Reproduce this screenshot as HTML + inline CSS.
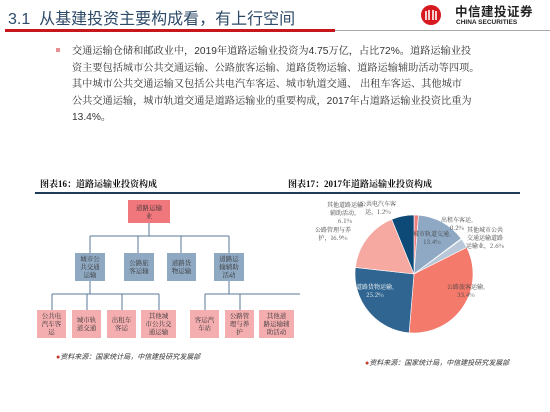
<!DOCTYPE html>
<html><head><meta charset="utf-8"><style>
body{margin:0;width:550px;height:412px;background:#fff;position:relative;overflow:hidden;font-family:"Liberation Sans","Noto Sans CJK SC",sans-serif}
.a{position:absolute}
.box{position:absolute;display:flex;align-items:center;justify-content:center;text-align:center;font-family:"Noto Serif CJK SC",serif;font-size:6.5px;line-height:8px;color:#333}
.red{background:#f0777c}.blue{background:#8fa9c2}.pink{background:#f4aeb0}
.para div{white-space:nowrap}
</style></head><body>
<div class="a" style="left:8px;top:5px;font-size:16px;color:#2d4a68;font-family:'Liberation Sans','Noto Sans CJK SC',sans-serif">3.1&nbsp; 从基建投资主要构成看，有上行空间</div>
<div class="a" style="left:5px;top:30px;width:545px;height:1px;background:#aaa"></div>
<div class="a" style="left:5px;top:29px;width:330px;height:3px;background:#c8161d"></div>
<svg class="a" style="left:420px;top:4px" width="22" height="22"><circle cx="11" cy="11" r="10" fill="#d71920"/><path d="M6 16V7M9 16V6M13 16V6M16 16V7" stroke="#fff" stroke-width="1.6"/></svg>
<div class="a" style="left:455px;top:1px;font-size:12.5px;font-weight:bold;color:#222;letter-spacing:0.5px">中信建投证券</div>
<div class="a" style="left:456px;top:19px;font-size:6.5px;font-weight:bold;color:#222">CHINA SECURITIES</div>
<div class="a" style="left:56px;top:48px;width:4px;height:4px;background:#e89090"></div>
<div class="a para" style="left:72px;top:44px;font-size:10.2px;line-height:16.6px;color:#333;font-family:'Liberation Sans','Noto Serif CJK SC',serif">
<div>交通运输仓储和邮政业中，2019年道路运输业投资为4.75万亿，占比72%。道路运输业投</div>
<div>资主要包括城市公共交通运输、公路旅客运输、道路货物运输、道路运输辅助活动等四项。</div>
<div>其中城市公共交通运输又包括公共电汽车客运、城市轨道交通、 出租车客运、其他城市</div>
<div>公共交通运输，城市轨道交通是道路运输业的重要构成，2017年占道路运输业投资比重为</div>
<div>13.4%。</div></div>

<div class="a" style="left:40px;top:177px;font-size:9px;font-weight:bold;color:#111;font-family:'Liberation Serif','Noto Serif CJK SC',serif">图表16：道路运输业投资构成</div>
<div class="a" style="left:288px;top:177px;font-size:9px;font-weight:bold;color:#111;font-family:'Liberation Serif','Noto Serif CJK SC',serif">图表17：2017年道路运输业投资构成</div>
<div class="a" style="left:35px;top:192px;width:485px;height:2px;background:#1f3b5a"></div>

<svg class="a" style="left:0;top:0" width="300" height="412"><g stroke="#5a7a98" stroke-width="1" fill="none">
<path d="M149 223V236M90 236H229M90 236V253M138 236V253M181 236V253M229 236V253"/>
<path d="M90 281V294M52 294H159M52 294V310M87 294V310M122 294V310M159 294V310"/>
<path d="M229 281V294M205 294H300M205 294V310M240 294V310"/></g></svg>
<div class="box red" style="left:128px;top:200px;width:42px;height:23px">道路运输<br>业</div>
<div class="box blue" style="left:75px;top:253px;width:30px;height:28px">城市公<br>共交通<br>运输</div>
<div class="box blue" style="left:124px;top:253px;width:30px;height:28px">公路旅<br>客运输</div>
<div class="box blue" style="left:167px;top:253px;width:29px;height:28px">道路货<br>物运输</div>
<div class="box blue" style="left:214px;top:253px;width:30px;height:28px">道路运<br>输辅助<br>活动</div>
<div class="box pink" style="left:37px;top:310px;width:29px;height:28px">公共电<br>汽车客<br>运</div>
<div class="box pink" style="left:72px;top:310px;width:29px;height:28px">城市轨<br>道交通</div>
<div class="box pink" style="left:107px;top:310px;width:29px;height:28px">出租车<br>客运</div>
<div class="box pink" style="left:141px;top:310px;width:35px;height:28px">其他城<br>市公共交<br>通运输</div>
<div class="box pink" style="left:190px;top:310px;width:29px;height:28px">客运汽<br>车站</div>
<div class="box pink" style="left:225px;top:310px;width:29px;height:28px">公路管<br>理与养<br>护</div>
<div class="box pink" style="left:259px;top:310px;width:35px;height:28px">其他道<br>路运输辅<br>助活动</div>

<div class="a" style="left:56px;top:352px;font-size:7px;font-style:italic;color:#333"><span style="color:#c0392b">●</span>资料来源：国家统计局，中信建投研究发展部</div>
<div class="a" style="left:365px;top:358px;font-size:7px;font-style:italic;color:#333"><span style="color:#c0392b">●</span>资料来源：国家统计局，中信建投研究发展部</div>

<svg class="a" id="pie" style="left:0;top:0" width="550" height="412"></svg>
<script>
const categories=["公共电汽车客运","城市轨道交通","出租车客运","其他城市公共交通运输运输业","公路旅客运输","道路货物运输","公路管理与养护","其他道路运输辅助活动"];
const values=[1.2,13.4,0.2,2.6,33.4,25.2,16.9,6.1];
const colors=["#f08080","#8fa9c4","#b5c6d6","#b8c8d8","#f47a6c","#2f6590","#f6a9a0","#0e4a78"];
const cx=414,cy=274,r=59;
const svg=document.getElementById('pie');
const NS="http://www.w3.org/2000/svg";
const total=values.reduce((a,b)=>a+b,0);
let a0=-Math.PI/2;
values.forEach((v,i)=>{
  const a1=a0+v/total*2*Math.PI;
  const large=(a1-a0)>Math.PI?1:0;
  const p=document.createElementNS(NS,'path');
  p.setAttribute('d',`M${cx},${cy}L${cx+r*Math.cos(a0)},${cy+r*Math.sin(a0)}A${r},${r} 0 ${large} 1 ${cx+r*Math.cos(a1)},${cy+r*Math.sin(a1)}Z`);
  p.setAttribute('fill',colors[i]);p.setAttribute('stroke','#fff');p.setAttribute('stroke-width','0.6');
  
  
  svg.appendChild(p);
  a0=a1;
});
const labels=[
 {t:["公共电汽车客","运，1.2%"],x:378,y:206},
 {t:["城市轨道交通,","13.4%"],x:432,y:236},
 {t:["出租车客运,","0.2%"],x:457,y:222},
 {t:["其他城市公共","交通运输道路","运输业，2.6%"],x:485,y:232},
 {t:["公路旅客运输,","33.4%"],x:466,y:289},
 {t:["道路货物运输,","25.2%"],x:375,y:289},
 {t:["公路管理与养","护，16.9%"],x:333,y:232},
 {t:["其他道路运输","辅助活动，","6.1%"],x:345,y:207}];
labels.forEach((l,i)=>{
  l.t.forEach((s,j)=>{
    const tx=document.createElementNS(NS,'text');
    tx.setAttribute('x',l.x);tx.setAttribute('y',l.y+j*8);
    tx.setAttribute('text-anchor','middle');tx.setAttribute('font-size','6');
    tx.setAttribute('fill',(i==5)?'#fff':'#444');
    tx.setAttribute('font-family','"Noto Serif CJK SC",serif');
    tx.textContent=s;
    
    
    svg.appendChild(tx);
  });
});
</script>
</body></html>
